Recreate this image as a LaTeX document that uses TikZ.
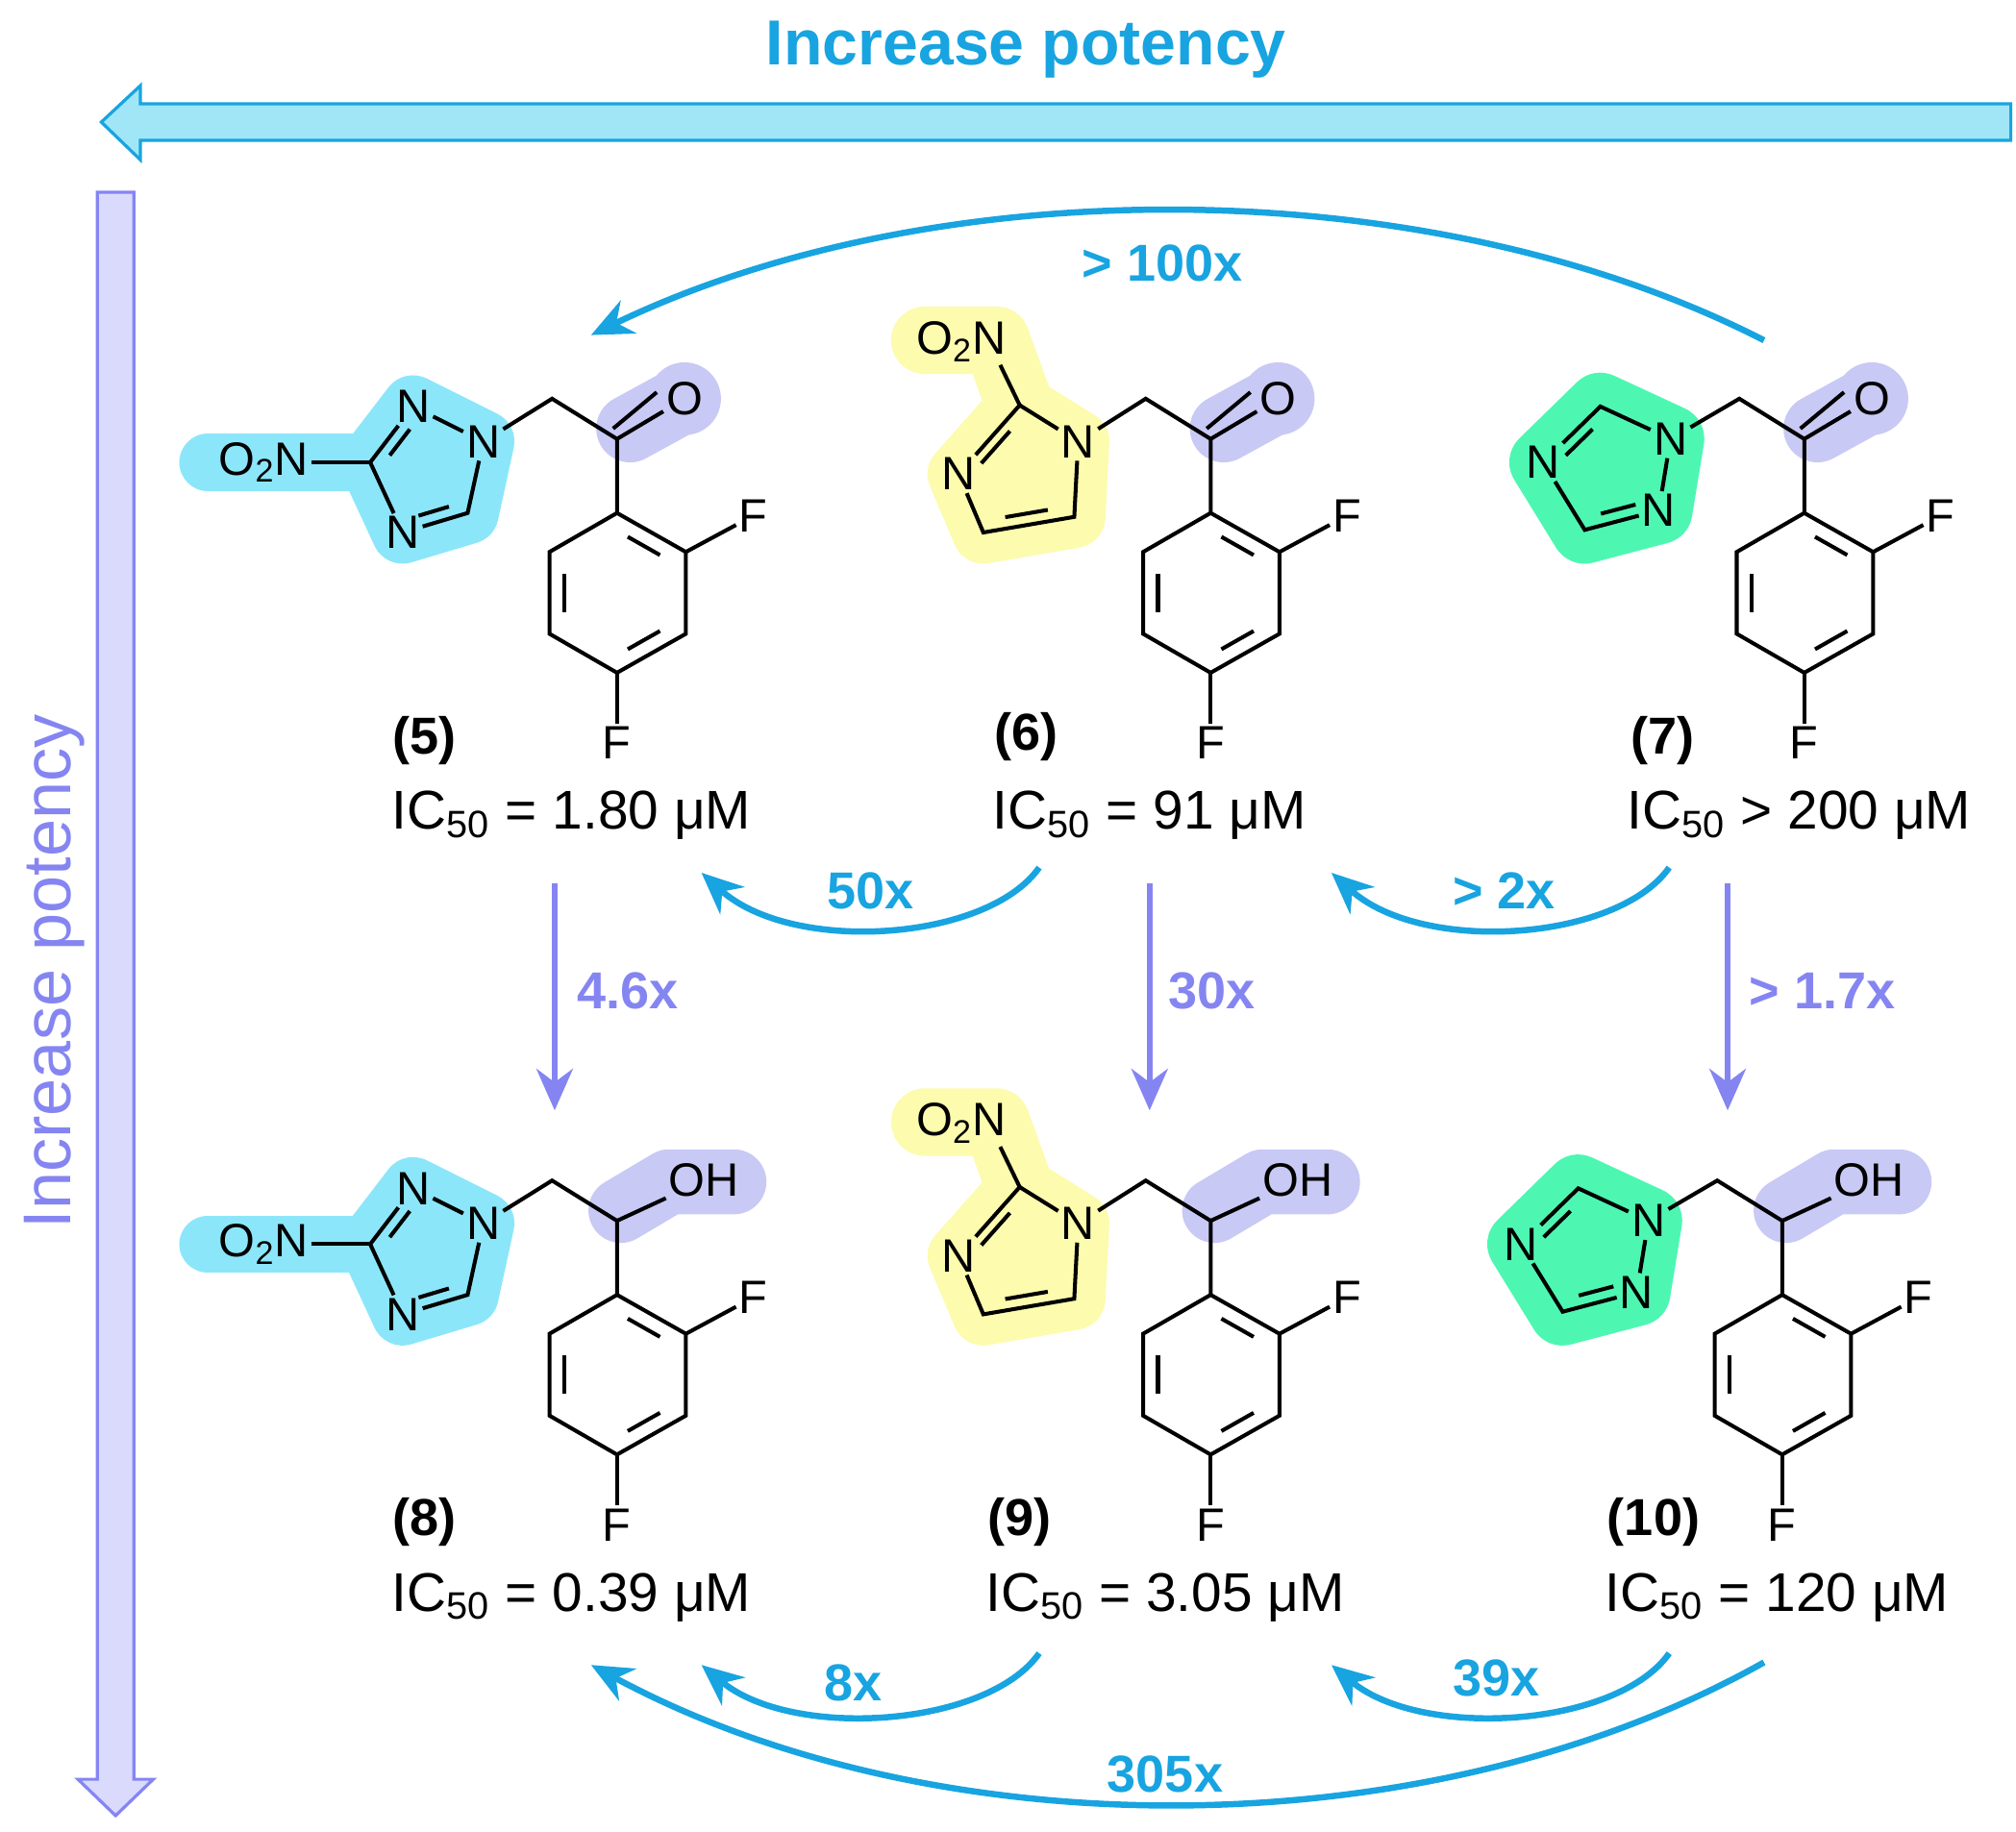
\documentclass[tikz,border=0pt]{standalone}
\usepackage{fontspec}
\setmainfont{Liberation Sans}
\usetikzlibrary{arrows.meta,calc}
\definecolor{cy}{HTML}{18A4E0}
\definecolor{cyfill}{HTML}{A0E6F7}
\definecolor{pu}{HTML}{8585F2}
\definecolor{pufill}{HTML}{DADAFD}
\definecolor{bblob}{HTML}{8CE6FA}
\definecolor{yblob}{HTML}{FDFBAE}
\definecolor{gblob}{HTML}{4DF7B2}
\definecolor{pblob}{HTML}{C9C9F5}
\tikzset{
 bond/.style={line width=1.5pt,black},
 atom/.style={inner sep=1pt,font=\fontsize{18}{19}\selectfont},
 lbl/.style={font=\bfseries\fontsize{20}{22}\selectfont},
 ic/.style={font=\fontsize{21}{23}\selectfont},
 cyarr/.style={cy,line width=2.4pt,-{Stealth[length=16pt,width=14pt]}},
 puarr/.style={pu,line width=2.4pt,-{Stealth[length=16pt,width=14pt]}},
 cylab/.style={cy,font=\bfseries\fontsize{20}{22}\selectfont},
 pulab/.style={pu,font=\bfseries\fontsize{20}{22}\selectfont},
 blob/.style={line width=#1,line join=round,line cap=round},
}
\newcommand\dblin[3]{\draw[bond] ($($(#1)!0.2!(#2)$)!0.22!(#3)$) -- ($($(#1)!0.8!(#2)$)!0.22!(#3)$);}
\newcommand\aryl[1]{%
 \coordinate (#1a1) at (475,395); \coordinate (#1a2) at (528,425);
 \coordinate (#1a3) at (528,488); \coordinate (#1a4) at (475,518);
 \coordinate (#1a5) at (423,488); \coordinate (#1a6) at (423,425);
 \coordinate (#1ac) at (475,457);
 \node[atom] (#1F1) at (580,397) {F};
 \node[atom] (#1F2) at (475,572) {F};
 \draw[bond] (#1a1)--(#1a2)--(#1a3)--(#1a4)--(#1a5)--(#1a6)--cycle;
 \dblin{#1a1}{#1a2}{#1ac}\dblin{#1a3}{#1a4}{#1ac}\dblin{#1a5}{#1a6}{#1ac}
 \draw[bond] (#1a2)--(#1F1); \draw[bond] (#1a4)--(#1F2);}
\newcommand\ketone[1]{%
 \fill[pblob] (527,307) circle (14pt);
 \draw[pblob,blob=26pt] (485,330)--(527,307);
 \coordinate (#1ch) at (425,307); \coordinate (#1c7) at (475,338);
 \node[atom] (#1O) at (527,307) {O};
 \draw[bond] (#1N1)--(#1ch)--(#1c7)--(475,395);
 \draw[bond] (#1c7)--(#1O);
 \draw[bond] ($(#1c7)+(-3,-8)$)--($(#1O.west)+(-5,-5)$);
 \aryl{#1}}
\newcommand\alcohol[1]{%
 \draw[pblob,blob=25pt] (478,330)--(515,308)--(565,308);
 \coordinate (#1ch) at (425,307); \coordinate (#1c7) at (475,338);
 \node[atom] (#1O) at (542,307) {OH};
 \draw[bond] (#1N1)--(#1ch)--(#1c7)--(475,395);
 \draw[bond] (#1c7)--(#1O);
 \aryl{#1}}
\newcommand\nitrotriazole[1]{%
 \fill[bblob] (318,313)--(372,340)--(360,395)--(310,410)--(285,356)--cycle;
 \draw[bblob,blob=24pt] (318,313)--(372,340)--(360,395)--(310,410)--(285,356)--cycle;
 \draw[bblob,blob=22pt] (285,356)--(160,356);
 \node[atom] (#1N2) at (318,313) {N}; \node[atom] (#1N1) at (372,340) {N};
 \coordinate (#1C5) at (360,395); \node[atom] (#1N4) at (310,410) {N};
 \coordinate (#1C3) at (285,356); \coordinate (#1rc) at (330,362);
 \node[atom,anchor=east] (#1no) at (240,356) {O\textsubscript{2}N};
 \draw[bond] (#1N2)--(#1N1)--(#1C5)--(#1N4)--(#1C3)--(#1N2);
 \dblin{#1C3}{#1N2}{#1rc}\dblin{#1C5}{#1N4}{#1rc}
 \draw[bond] (#1C3)--(#1no);}
\newcommand\nitroimid[1]{%
 \fill[yblob] (373,340)--(328,312)--(281,365)--(300,410)--(370,398)--cycle;
 \draw[yblob,blob=24pt] (373,340)--(328,312)--(281,365)--(300,410)--(370,398)--cycle;
 \draw[yblob,blob=26pt] (328,312)--(310,262)--(255,262);
 \node[atom] (#1N1) at (373,340) {N}; \coordinate (#1C2) at (328,312);
 \node[atom] (#1N3) at (281,365) {N}; \coordinate (#1C4) at (300,410);
 \coordinate (#1C5) at (370,398); \coordinate (#1rc) at (327,365);
 \node[atom] (#1no) at (283,263) {O\textsubscript{2}N};
 \draw[bond] (#1N1)--(#1C2)--(#1N3)--(#1C4)--(#1C5)--(#1N1);
 \dblin{#1C2}{#1N3}{#1rc}\dblin{#1C4}{#1C5}{#1rc}
 \draw[bond] (#1C2)--(313,281);}
\newcommand\triazole[1]{%
 \fill[gblob] (372,338)--(363,393)--(306,408)--(274,356)--(318,313)--cycle;
 \draw[gblob,blob=26pt] (372,338)--(363,393)--(306,408)--(274,356)--(318,313)--cycle;
 \node[atom] (#1N1) at (372,338) {N}; \node[atom] (#1N2) at (363,393) {N};
 \coordinate (#1C3) at (306,408); \node[atom] (#1N4) at (274,356) {N};
 \coordinate (#1C5) at (318,313); \coordinate (#1rc) at (322,362);
 \draw[bond] (#1N1)--(#1N2)--(#1C3)--(#1N4)--(#1C5)--(#1N1);
 \dblin{#1C5}{#1N4}{#1rc}\dblin{#1C3}{#1N2}{#1rc}}
\begin{document}
\begin{tikzpicture}[x=0.5pt,y=-0.5pt]
\useasboundingbox (0,0) rectangle (1552,1410);
\draw[cy,fill=cyfill,line width=1.2pt,line join=miter] (1548,80)--(108,80)--(108,66)--(78,94)--(108,123)--(108,108)--(1548,108)--cycle;
\node[cy,font=\bfseries\fontsize{24.5}{26}\selectfont] (t1) at (790,38) {Increase potency};
\draw[pu,fill=pufill,line width=1.2pt] (75,148)--(103,148)--(103,1370)--(118,1370)--(89,1398)--(60,1370)--(75,1370)--cycle;
\node[pu,rotate=90,font=\fontsize{26}{28}\selectfont] (t2) at (42,748) {Increase potency};
\begin{scope}\nitrotriazole{m5}\ketone{m5}\end{scope}
\begin{scope}[shift={(457,0)}]\nitroimid{m6}\ketone{m6}\end{scope}
\begin{scope}[shift={(914,0)}]\triazole{m7}\ketone{m7}\end{scope}
\begin{scope}[shift={(0,602)}]\nitrotriazole{m8}\alcohol{m8}\end{scope}
\begin{scope}[shift={(457,602)}]\nitroimid{m9}\alcohol{m9}\end{scope}
\begin{scope}[shift={(897,602)}]\triazole{m10}\alcohol{m10}\end{scope}
\node[lbl] (l5) at (327,570) {(5)};
\node[lbl] (l6) at (790,567) {(6)};
\node[lbl] (l7) at (1280,570) {(7)};
\node[lbl] (l8) at (327,1172) {(8)};
\node[lbl] (l9) at (785,1172) {(9)};
\node[lbl] (l10) at (1273,1172) {(10)};
\node[ic] (i5) at (440,628) {IC\textsubscript{50} = 1.80 μM};
\node[ic] (i6) at (885,628) {IC\textsubscript{50} = 91 μM};
\node[ic] (i7) at (1385,628) {IC\textsubscript{50} > 200 μM};
\node[ic] (i8) at (440,1230) {IC\textsubscript{50} = 0.39 μM};
\node[ic] (i9) at (897,1230) {IC\textsubscript{50} = 3.05 μM};
\node[ic] (i10) at (1368,1230) {IC\textsubscript{50} = 120 μM};
\coordinate (a1s) at (1358,262); \coordinate (a1e) at (455,258);
\draw[cyarr] (a1s) .. controls (1100,130) and (720,130) .. (a1e);
\node[cylab] (k1) at (895,203) {> 100x};
\coordinate (a2s) at (800,668); \coordinate (a2e) at (540,672);
\draw[cyarr] (a2s) .. controls (760,725) and (610,735) .. (a2e);
\node[cylab] (k2) at (670,686) {50x};
\coordinate (a3s) at (1285,668); \coordinate (a3e) at (1025,672);
\draw[cyarr] (a3s) .. controls (1245,725) and (1095,735) .. (a3e);
\node[cylab] (k3) at (1158,686) {> 2x};
\coordinate (a4s) at (800,1273); \coordinate (a4e) at (540,1282);
\draw[cyarr] (a4s) .. controls (760,1330) and (610,1340) .. (a4e);
\node[cylab] (k4) at (657,1296) {8x};
\coordinate (a5s) at (1285,1273); \coordinate (a5e) at (1025,1282);
\draw[cyarr] (a5s) .. controls (1245,1330) and (1095,1340) .. (a5e);
\node[cylab] (k5) at (1152,1292) {39x};
\coordinate (a6s) at (1358,1280); \coordinate (a6e) at (455,1282);
\draw[cyarr] (a6s) .. controls (1100,1425) and (720,1425) .. (a6e);
\node[cylab] (k6) at (897,1366) {305x};
\coordinate (v1s) at (427,680); \coordinate (v1e) at (427,855);
\draw[puarr] (v1s)--(v1e); \node[pulab] (p1) at (483,763) {4.6x};
\coordinate (v2s) at (885,680); \coordinate (v2e) at (885,855);
\draw[puarr] (v2s)--(v2e); \node[pulab] (p2) at (933,763) {30x};
\coordinate (v3s) at (1330,680); \coordinate (v3e) at (1330,855);
\draw[puarr] (v3s)--(v3e); \node[pulab] (p3) at (1403,763) {> 1.7x};
\end{tikzpicture}
\end{document}
